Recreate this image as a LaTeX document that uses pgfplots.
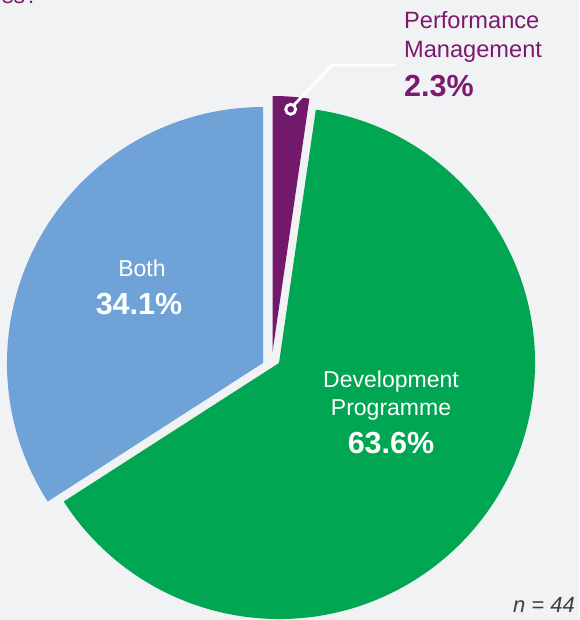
\documentclass[border=0pt]{standalone}
\usepackage{pgfplots}
\pgfplotsset{compat=1.18}
\usepackage{pgfplotstable}
\usepackage{fontspec}
\setmainfont{Liberation Sans}
\definecolor{bg}{HTML}{F1F2F4}
\definecolor{piegreen}{HTML}{00A651}
\definecolor{pieblue}{HTML}{6FA3D8}
\definecolor{piepurple}{HTML}{72196B}
\definecolor{labpurple}{HTML}{7B1A6E}
\definecolor{ngray}{HTML}{404040}

\pgfplotstableread{
name value
Performance 2.3
Development 63.6
Both 34.1
}\piedata
\pgfplotstablegetelem{0}{value}\of\piedata \let\vA\pgfplotsretval
\pgfplotstablegetelem{1}{value}\of\piedata \let\vB\pgfplotsretval
\pgfplotstablegetelem{2}{value}\of\piedata \let\vC\pgfplotsretval
\pgfmathsetmacro\aA{90}
\pgfmathsetmacro\aB{\aA-3.6*\vA}
\pgfmathsetmacro\aC{\aB-3.6*\vB}
\pgfmathsetmacro\aD{\aC-3.6*\vC}
\newcommand\lab{\fontsize{23}{27}\selectfont}
\newcommand\labp{\fontsize{23.6}{27}\selectfont}
\newcommand\pct{\fontsize{30.5}{34}\selectfont\bfseries}

\begin{document}
\begin{tikzpicture}
\begin{axis}[
  width=579pt, height=620pt, scale only axis,
  xmin=0, xmax=579, ymin=0, ymax=620,
  axis lines=none, clip=true,
  axis background/.style={fill=bg},
]
% slices (angles from the data table)
\fill[piepurple] (axis cs:272.5,268) -- ++(\aA:256pt) arc[start angle=\aA, end angle=\aB, radius=256pt] -- cycle;
\fill[piegreen] (axis cs:279,257) -- ++(\aB:256pt) arc[start angle=\aB, end angle=\aC, radius=256pt] -- cycle;
\fill[pieblue] (axis cs:263,257) -- ++(\aC:256pt) arc[start angle=\aC, end angle=\aD, radius=256pt] -- cycle;
% leader line
\draw[white, line width=2.8pt] (axis cs:294,515) -- (axis cs:332,555) -- (axis cs:395,555);
\draw[white, line width=2.8pt, fill=piepurple] (axis cs:290.7,510.7) circle[radius=5pt];
% labels
\node[anchor=base, white, inner sep=0pt] at (axis cs:142,343) {\lab Both};
\node[anchor=base, white, inner sep=0pt] at (axis cs:139,305) {\pct 34.1\%};
\node[anchor=base, white, inner sep=0pt] at (axis cs:391,232) {\lab Development};
\node[anchor=base, white, inner sep=0pt] at (axis cs:391,204) {\lab Programme};
\node[anchor=base, white, inner sep=0pt] at (axis cs:391,166) {\pct 63.6\%};
\node[anchor=base west, labpurple, inner sep=0pt] at (axis cs:404,591) {\labp Performance};
\node[anchor=base west, labpurple, inner sep=0pt] at (axis cs:404,562) {\labp Management};
\node[anchor=base west, labpurple, inner sep=0pt] at (axis cs:404,523) {\pct 2.3\%};
\node[anchor=base east, ngray, inner sep=0pt] at (axis cs:575,8) {\fontsize{22}{26}\selectfont\itshape n = 44};
\node[anchor=base east, labpurple, inner sep=0pt] at (axis cs:38,616.5) {\fontsize{23}{27}\selectfont ss?};
\end{axis}
\end{tikzpicture}
\end{document}
